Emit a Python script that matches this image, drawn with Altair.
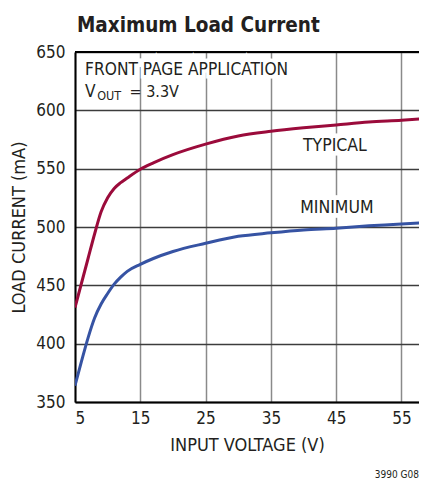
import altair as alt
import pandas as pd

# ---- data ----
vin_typ = [5, 6, 7, 8, 9, 10, 11, 12, 13, 15, 17, 20, 25, 30, 35, 40, 45, 50, 55, 58.9]
i_typ = [431, 452, 473, 494, 513, 525, 533, 538, 542, 549.5, 555, 562, 571, 578, 582, 585, 587.5, 590, 591.5, 593]

vin_min = [5, 6, 7, 8, 9, 10, 11, 12, 13, 15, 17, 20, 25, 30, 35, 40, 45, 50, 55, 58.9]
i_min = [364, 385, 405, 422, 434, 443, 451, 457, 462, 468, 473, 479, 486, 492, 495, 497.5, 499, 501, 502.5, 504]

x_ticks = [5, 15, 25, 35, 45, 55]
y_ticks = [350, 400, 450, 500, 550, 600, 650]

series_labels = ["TYPICAL", "MINIMUM"]
label_x = [44.8, 45.1]
label_y = [569.5, 516.5]

note_line1 = "FRONT PAGE APPLICATION"
vout_parts = ["V", "OUT", "= 3.3V"]

FONT = "DejaVu Sans Condensed, Liberation Sans, sans-serif"
INK = "#231f20"
RED = "#9b0b3b"
BLUE = "#3653a3"

df = pd.DataFrame(
    {"vin": vin_typ + vin_min,
     "cur": i_typ + i_min,
     "series": ["TYPICAL"] * len(vin_typ) + ["MINIMUM"] * len(vin_min)}
)

xs = alt.Scale(domain=[5, 57.68], nice=False, zero=False)
ys = alt.Scale(domain=[350, 650], nice=False, zero=False)

lines = alt.Chart(df).mark_line(strokeWidth=3, interpolate="monotone", clip=True).encode(
    x=alt.X("vin:Q", scale=xs,
            axis=alt.Axis(values=x_ticks, title="INPUT VOLTAGE (V)", ticks=False,
                          labelPadding=8, titlePadding=10, gridColor="#8a8a8a",
                          gridWidth=1.5, domainColor="#000000", domainWidth=2)),
    y=alt.Y("cur:Q", scale=ys,
            axis=alt.Axis(values=y_ticks, title="LOAD CURRENT (mA)", ticks=False,
                          labelPadding=10, titlePadding=7, gridColor="#3c3c3c",
                          gridWidth=1.5, domainColor="#000000", domainWidth=2)),
    color=alt.Color("series:N", scale=alt.Scale(domain=["TYPICAL", "MINIMUM"], range=[RED, BLUE]),
                    legend=None),
    detail="series:N",
)

top_border = alt.Chart(pd.DataFrame({"y": [650]})).mark_rule(color="#000000", strokeWidth=2).encode(
    y=alt.Y("y:Q", scale=ys)
)

lab_df = pd.DataFrame({"x": label_x, "y": label_y, "t": series_labels})
lab_enc = dict(x=alt.X("x:Q", scale=xs), y=alt.Y("y:Q", scale=ys), text="t:N")
labels_halo = alt.Chart(lab_df).mark_text(font=FONT, fontSize=17.5, color="white", stroke="white",
                                          strokeWidth=9, align="center", baseline="middle").encode(**lab_enc)
labels = alt.Chart(lab_df).mark_text(font=FONT, fontSize=17.5, color=INK,
                                     align="center", baseline="middle").encode(**lab_enc)

n1_df = pd.DataFrame({"x": [6.55], "y": [630.5], "t": [note_line1]})
n1_enc = dict(x=alt.X("x:Q", scale=xs), y=alt.Y("y:Q", scale=ys), text="t:N")
note1_halo = alt.Chart(n1_df).mark_text(font=FONT, fontSize=17.2, color="white", stroke="white",
                                        strokeWidth=7, align="left", baseline="alphabetic").encode(**n1_enc)
note1 = alt.Chart(n1_df).mark_text(font=FONT, fontSize=17.2, color=INK, align="left",
                                   baseline="alphabetic").encode(**n1_enc)

vout_df = pd.DataFrame({"x": [6.55, 8.4, 13.35], "y": [611.5, 608.8, 611.5],
                        "t": vout_parts, "s": [17.2, 12.5, 16]})
vout = alt.Chart(vout_df).mark_text(font=FONT, color=INK, align="left",
                                    baseline="alphabetic").encode(
    x=alt.X("x:Q", scale=xs), y=alt.Y("y:Q", scale=ys), text="t:N",
    size=alt.Size("s:Q", scale=None, legend=None))

footer = alt.Chart(pd.DataFrame({"t": ["3990 G08"]})).mark_text(
    font=FONT, fontSize=10, color=INK, align="right", baseline="middle").encode(
    x=alt.value(344), y=alt.value(423), text="t:N")

chart = alt.layer(lines, top_border, labels_halo, labels, note1_halo, note1, vout, footer).properties(
    width=344, height=350,
    title=alt.TitleParams("Maximum Load Current", anchor="start", frame="group",
                          font=FONT, fontSize=20.5, fontWeight="bold", color=INK,
                          offset=7, dx=2),
    autosize=alt.AutoSizeParams(type="none"),
    padding={"left": 67, "top": 44, "right": 0, "bottom": 77},
).configure_axis(
    labelFont=FONT, labelFontSize=17, labelColor=INK,
    titleFont=FONT, titleFontSize=18, titleFontWeight="normal", titleColor=INK,
).configure_view(stroke=None)

chart.save("out.html", embed_options={"renderer": "svg", "actions": False})
